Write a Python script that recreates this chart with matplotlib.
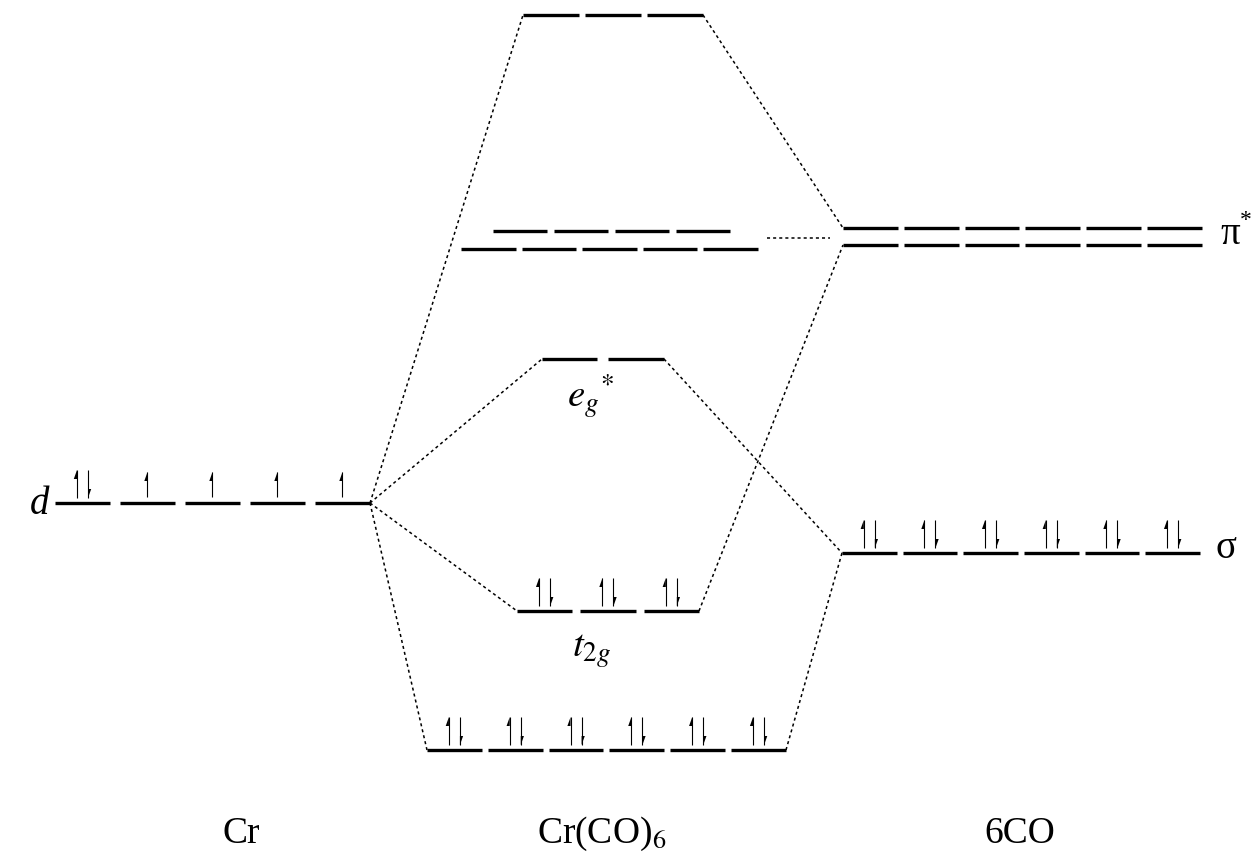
import matplotlib
matplotlib.use("Agg")
import matplotlib.pyplot as plt

# -------- DATA --------
# energy levels (arbitrary energy units, higher = up)
level_names = ["d", "top", "pi_up", "pi_lo", "eg", "t2g", "bond", "co_pi_up", "co_pi_lo", "sigma"]
level_energy = [356, 844, 628, 610, 500, 248, 109, 631, 614, 306]
level_degen = [5, 3, 4, 5, 2, 3, 6, 6, 6, 6]
level_electrons = [
    [2, 1, 1, 1, 1],
    [0, 0, 0],
    [0, 0, 0, 0],
    [0, 0, 0, 0, 0],
    [0, 0],
    [2, 2, 2],
    [2, 2, 2, 2, 2, 2],
    [0] * 6,
    [0] * 6,
    [2, 2, 2, 2, 2, 2],
]

# correlation lines: (from level, side, to level, side)
links = [
    ("d", "right", "top", "left"),
    ("d", "right", "eg", "left"),
    ("d", "right", "t2g", "left"),
    ("d", "right", "bond", "left"),
    ("top", "right", "co_pi_up", "left"),
    ("eg", "right", "sigma", "left"),
    ("t2g", "right", "co_pi_lo", "left"),
    ("bond", "right", "sigma", "left"),
]

column_labels = ["Cr", "Cr(CO)$_6$", "6CO"]

# -------- LAYOUT --------
# horizontal extent and gap of each level (pixels)
level_span = {
    "d": (55, 370, 10),
    "top": (523, 703, 6),
    "pi_up": (493, 730, 7),
    "pi_lo": (461, 758, 6),
    "eg": (542, 664, 11),
    "t2g": (517, 699, 8),
    "bond": (427, 786, 6),
    "co_pi_up": (843, 1202, 6),
    "co_pi_lo": (843, 1202, 6),
    "sigma": (842, 1200, 6),
}
label_x = [241, 602, 1020]

plt.rcParams['font.family'] = ['Liberation Serif', 'DejaVu Serif']
plt.rcParams['mathtext.fontset'] = 'stix'

fig = plt.figure(figsize=(12.59, 8.59), dpi=100)
ax = fig.add_axes([0, 0, 1, 1])
ax.set_xlim(0, 1259)
ax.set_ylim(0, 859)
ax.axis('off')

energy = dict(zip(level_names, level_energy))
dotted = (0, (2.0, 2.0))


def half_arrow(x, y0, y1, up=True):
    # thin electron arrow with a one-sided head
    ax.plot([x, x], [y0, y1], color='black', lw=0.8, solid_capstyle='butt')
    hl, hw = 9, 3.2
    if up:
        ax.fill([x, x - hw, x], [y1, y1 - hl, y1 - hl], color='black', lw=0)
    else:
        ax.fill([x, x + hw, x], [y1, y1 + hl, y1 + hl], color='black', lw=0)


for name, n, elec in zip(level_names, level_degen, level_electrons):
    x0, x1, gap = level_span[name]
    e = energy[name]
    w = (x1 - x0 - (n - 1) * gap) / n
    for i in range(n):
        a = x0 + i * (w + gap)
        ax.plot([a, a + w], [e, e], color='black', lw=2.4, solid_capstyle='butt')
        c = a + w / 2
        if elec[i] == 2:
            half_arrow(c - 5.5, e + 5, e + 33, up=True)
            half_arrow(c + 5.5, e + 33, e + 5, up=False)
        elif elec[i] == 1:
            half_arrow(c, e + 6, e + 31, up=True)

for a, sa, b, sb in links:
    xa = level_span[a][0] if sa == "left" else level_span[a][1]
    xb = level_span[b][0] if sb == "left" else level_span[b][1]
    ax.plot([xa, xb], [energy[a], energy[b]], color='black', lw=1.1, linestyle=dotted)

# short dashed link between the pi* sets
pi_mid = (energy["pi_up"] + energy["pi_lo"] + energy["co_pi_up"] + energy["co_pi_lo"]) / 4
ax.plot([767, 830], [pi_mid, pi_mid], color='black', lw=1.1, linestyle=dotted)

# level labels
ax.text(40, energy["d"] - 2, "d", fontsize=28, style='italic', ha='center', va='center')
ax.text(1226, energy["sigma"] + 4, "σ", fontsize=28, ha='center', va='center')
ax.text(1230, (energy["co_pi_up"] + energy["co_pi_lo"]) / 2 + 2, "π", fontsize=28,
        ha='center', va='center')
ax.text(1246, (energy["co_pi_up"] + energy["co_pi_lo"]) / 2 + 16, "*", fontsize=17,
        ha='center', va='center')
ax.text(590, energy["eg"] - 38, r'$e_{g}{}^{*}$', fontsize=28, ha='center', va='center')
ax.text(592, energy["t2g"] - 40, r'$t_{2g}$', fontsize=28, ha='center', va='center')

for lab, x in zip(column_labels, label_x):
    ax.text(x, 25, lab, fontsize=27, ha='center', va='center')

fig.savefig("out.png", dpi=100)
